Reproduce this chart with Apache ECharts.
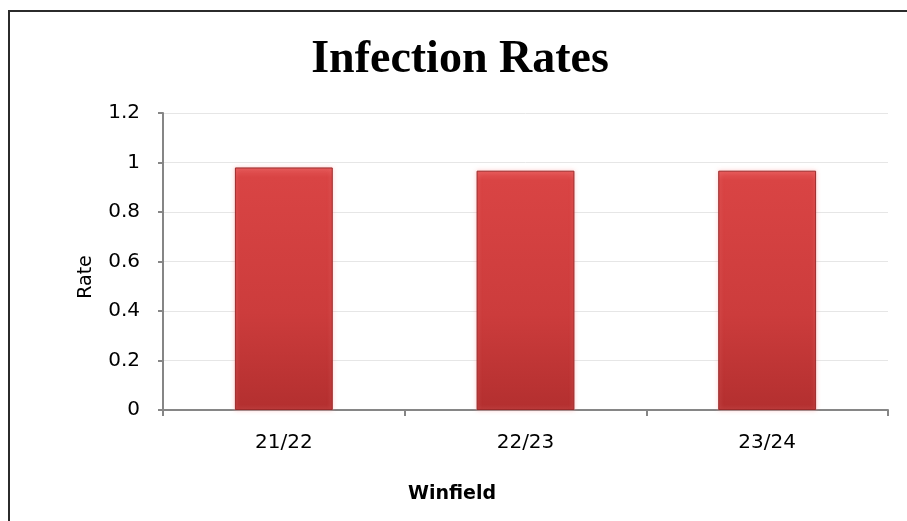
<!DOCTYPE html>
<html>
<head>
<meta charset="utf-8">
<script src="https://cdn.jsdelivr.net/npm/echarts@6/dist/echarts.min.js"></script>
<style>
  html, body { margin: 0; padding: 0; background: #fff; }
  #chart { width: 907px; height: 521px; }
</style>
</head>
<body>
<div id="chart"></div>
<script>
// data
var categories = ['21/22', '22/23', '23/24']
var rates = [0.98, 0.967, 0.967]
var yTicks = { min: 0, max: 1.2, step: 0.2 }

var chart = echarts.init(document.getElementById('chart'))

var option = {
  animation: false,
  backgroundColor: '#fff',
  grid: {
    left: 163,
    right: 19,
    top: 113,
    bottom: 111
  },
  graphic: [
    { // outer frame, runs off the right and bottom
      type: 'rect',
      shape: { x: 9, y: 11, width: 1000, height: 600 },
      style: { fill: null, stroke: '#2b2b2b', lineWidth: 2 },
      silent: true
    },
    {
      type: 'text',
      x: 460,
      y: 60,
      style: {
        text: 'Infection Rates',
        font: 'bold 46px "Liberation Serif"',
        fill: '#000',
        textAlign: 'center',
        textVerticalAlign: 'middle'
      }
    },
    {
      type: 'text',
      x: 408,
      y: 494,
      style: {
        text: 'Winfield',
        font: 'bold 19px "DejaVu Sans"',
        fill: '#000',
        textAlign: 'left',
        textVerticalAlign: 'middle'
      }
    },
    {
      type: 'text',
      x: 86,
      y: 277,
      rotation: Math.PI / 2,
      style: {
        text: 'Rate',
        font: '19px "DejaVu Sans"',
        fill: '#000',
        textAlign: 'center',
        textVerticalAlign: 'middle'
      }
    }
  ],
  xAxis: {
    type: 'category',
    data: categories,
    axisLine: { lineStyle: { color: '#868686', width: 2 } },
    axisTick: { show: true, length: 6, lineStyle: { color: '#868686', width: 2 } },
    axisLabel: {
      margin: 23,
      color: '#000',
      fontSize: 20,
      fontFamily: 'DejaVu Sans'
    },
    splitLine: { show: false }
  },
  yAxis: {
    type: 'value',
    min: yTicks.min,
    max: yTicks.max,
    interval: yTicks.step,
    axisLine: { show: true, lineStyle: { color: '#868686', width: 2 } },
    axisTick: { show: true, length: 5, lineStyle: { color: '#868686', width: 2 } },
    axisLabel: {
      margin: 23,
      color: '#000',
      fontSize: 20,
      fontFamily: 'DejaVu Sans'
    },
    splitLine: { lineStyle: { color: '#e6e6e6', width: 1 } }
  },
  series: [{
    type: 'bar',
    data: rates,
    barWidth: '40.5%',
    itemStyle: {
      color: new echarts.graphic.LinearGradient(0, 0, 0, 1, [
        { offset: 0, color: '#e45656' },
        { offset: 0.04, color: '#d94444' },
        { offset: 0.6, color: '#cc3c3c' },
        { offset: 1, color: '#b32f2f' }
      ]),
      borderColor: '#9a2a2a',
      borderWidth: 1,
      shadowColor: 'rgba(255,160,160,0.5)',
      shadowBlur: 4
    }
  }]
}

chart.setOption(option)
window.addEventListener('resize', function() {
  chart.resize()
})
</script>
</body>
</html>
